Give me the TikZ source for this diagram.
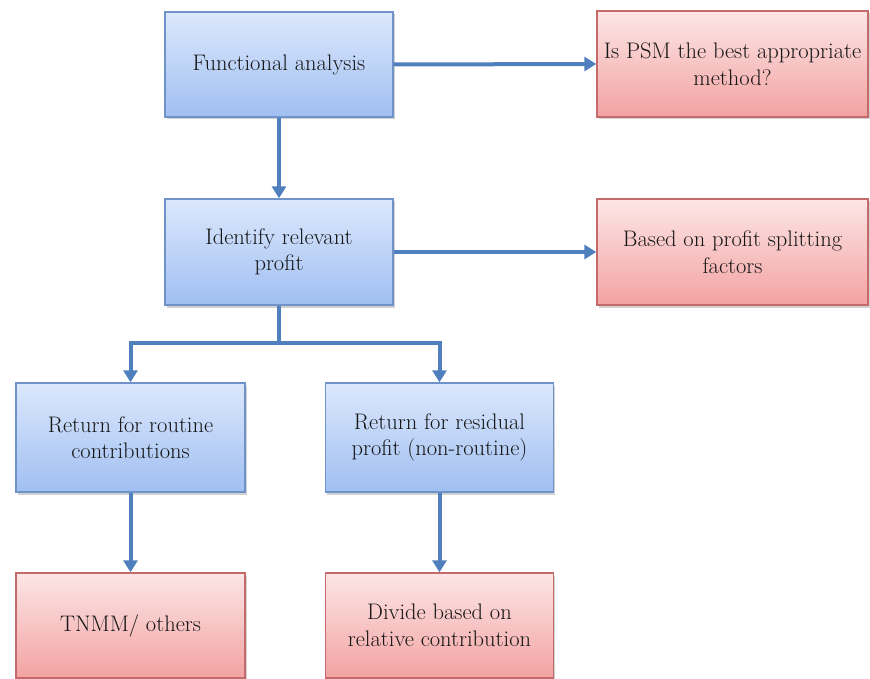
\documentclass[tikz,border=0pt]{standalone}
\usetikzlibrary{arrows.meta,shadows}

\definecolor{blueTop}{HTML}{DCE8FC}
\definecolor{blueBot}{HTML}{A0BFF2}
\definecolor{blueEdge}{HTML}{6F93C8}
\definecolor{redTop}{HTML}{FDE6E6}
\definecolor{redBot}{HTML}{F3A2A2}
\definecolor{redEdge}{HTML}{C46A6A}
\definecolor{linkBlue}{HTML}{4F7FBC}
\definecolor{txt}{HTML}{161616}

\tikzset{
  box/.style={rectangle, draw, line width=1.4pt, text=txt, align=center,
    font=\fontsize{22.5}{26.5}\selectfont, inner sep=1pt,
    drop shadow={shadow xshift=1.5pt, shadow yshift=-2.5pt, opacity=0.3, fill=black!60}},
  bluebox/.style={box, draw=blueEdge, top color=blueTop, bottom color=blueBot},
  redbox/.style={box, draw=redEdge, top color=redTop, bottom color=redBot},
  link/.style={draw=linkBlue, line width=4pt},
  arrow/.style={link, -{Triangle[width=14pt,length=12pt]}}
}

\begin{document}
\begin{tikzpicture}[x=1pt,y=-1pt]
  \useasboundingbox (0,0) rectangle (870,679);

  % upper column
  \node[bluebox, minimum width=228pt, minimum height=105pt] (func) at (279,64.5) {Functional analysis};
  \node[bluebox, minimum width=228pt, minimum height=106pt] (ident) at (279,252) {Identify relevant\\profit};

  % right-hand outcomes
  \node[redbox, minimum width=271pt, minimum height=106pt] (psm) at (732.5,64) {Is PSM the best appropriate\\method?};
  \node[redbox, minimum width=271pt, minimum height=106pt] (split) at (732.5,252) {Based on profit splitting\\factors};

  % lower branches
  \node[bluebox, minimum width=229pt, minimum height=109pt] (routine) at (130.5,437.5) {Return for routine\\contributions};
  \node[bluebox, minimum width=228pt, minimum height=109pt] (residual) at (439.5,437.5) {Return for residual\\profit (non-routine)};
  \node[redbox, minimum width=229pt, minimum height=105pt] (tnmm) at (130.5,625.5) {TNMM/ others};
  \node[redbox, minimum width=228pt, minimum height=105pt] (divide) at (439.5,625.5) {Divide based on\\relative contribution};

  % connectors
  \draw[arrow] (func.east) -- (psm.west);
  \draw[arrow] (ident.east) -- (split.west);
  \draw[arrow] (func.south) -- (ident.north);

  \coordinate (fork) at (279,343);
  \draw[link] (ident.south) -- (fork);
  \draw[arrow] (fork) -| (routine.north);
  \draw[arrow] (fork) -| (residual.north);

  \draw[arrow] (routine.south) -- (tnmm.north);
  \draw[arrow] (residual.south) -- (divide.north);
\end{tikzpicture}
\end{document}
